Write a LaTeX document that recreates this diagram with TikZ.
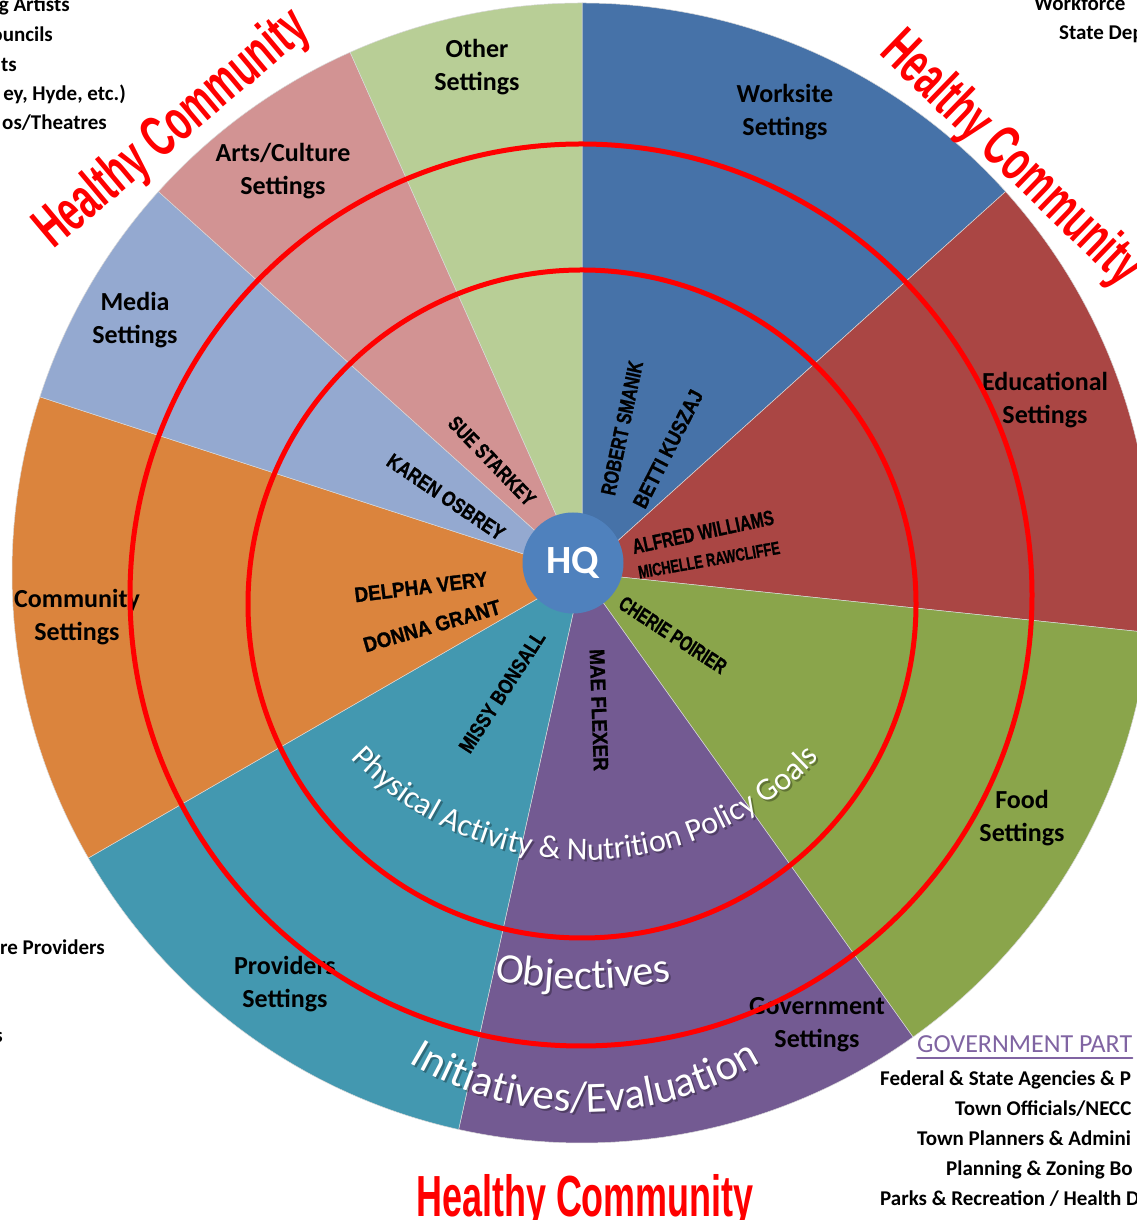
\documentclass[tikz,border=0pt]{standalone}
\usepackage{fontspec}
\usepackage{graphicx}
\setmainfont{Carlito}
\newfontfamily\arialf{Liberation Sans}
\newfontfamily\heavyf{Liberation Sans}[FakeBold=1.2]
\usetikzlibrary{decorations.text}
\definecolor{worksite}{HTML}{4672A8}
\definecolor{educ}{HTML}{AA4644}
\definecolor{food}{HTML}{8AA54B}
\definecolor{govt}{HTML}{735A92}
\definecolor{providers}{HTML}{4398B0}
\definecolor{community}{HTML}{DB843D}
\definecolor{media}{HTML}{94A9D0}
\definecolor{arts}{HTML}{D29393}
\definecolor{other}{HTML}{B8CE96}
\definecolor{hqblue}{HTML}{4F81BD}
\definecolor{govpurple}{HTML}{8064A2}
\newcommand{\hsq}[2]{\scalebox{#1}[1]{#2}}
\begin{document}
\begin{tikzpicture}[x=1pt, y=1pt, line join=round, line cap=round,
	setting/.style={font=\fontsize{26}{33}\selectfont\bfseries, align=center, inner sep=0pt},
	who/.style={font=\fontsize{21}{21}\selectfont\heavyf\bfseries, inner sep=0pt},
	healthy/.style={font=\fontsize{58}{58}\selectfont\arialf\bfseries, text=red, inner sep=0pt},
	partner/.style={font=\fontsize{21}{21}\selectfont\bfseries, inner sep=0pt, anchor=base west},
	ring/.style={draw=red, line width=5pt},
	arctext/.style 2 args={decorate, decoration={text along path, text align=center, text color=#1, text={#2}}}]
	\useasboundingbox (0,0) rectangle (1136,1220);
	\def\R{570pt}
	\coordinate (O) at (582,647);
	% wedges
	\foreach \a/\b/\c in {42/90/worksite, -6/42/educ, -54.5/-6/food, -102.5/-54.5/govt, -150/-102.5/providers, 162/210/community, 138/162/media, 114/138/arts, 90/114/other}
		\fill[\c, draw=white!85!black, line width=0.5pt] (O) -- ++(\a:\R) arc[start angle=\a, end angle=\b, radius=\R] -- cycle;
	\node[circle, fill=hqblue, minimum size=101pt, inner sep=0pt, text=white, font=\fontsize{40}{40}\selectfont\bfseries] (hq) at (573,657) {HQ};
	% names
	\node[who, rotate=78] (smanik) at (622,792) {\hsq{.77}{ROBERT SMANIK}};
	\node[who, rotate=63] (kuszaj) at (668,771) {\hsq{.86}{BETTI KUSZAJ}};
	\node[who, rotate=12] (williams) at (703,688) {\hsq{.74}{ALFRED WILLIAMS}};
	\node[who, rotate=10, font=\fontsize{18}{18}\selectfont\heavyf\bfseries] (rawcliffe) at (709,660) {\hsq{.71}{MICHELLE RAWCLIFFE}};
	\node[who, rotate=-33] (poirier) at (673,585) {\hsq{.72}{CHERIE POIRIER}};
	\node[who, rotate=-88] (flexer) at (599,510) {\hsq{.9}{MAE FLEXER}};
	\node[who, rotate=57] (bonsall) at (502,528) {\hsq{.81}{MISSY BONSALL}};
	\node[who, rotate=7] (very) at (421,633) {\hsq{.9}{DELPHA VERY}};
	\node[who, rotate=16] (grant) at (432,594) {\hsq{.9}{DONNA GRANT}};
	\node[who, rotate=-34] (osbrey) at (446,723) {\hsq{.81}{KAREN OSBREY}};
	\node[who, rotate=-46] (starkey) at (492,759) {\hsq{.78}{SUE STARKEY}};
	% settings
	\node[setting] (otherlbl) at (477,1153) {Other\\Settings};
	\node[setting] (worklbl) at (785,1108) {Worksite\\Settings};
	\node[setting] (artslbl) at (283,1049) {Arts/Culture\\Settings};
	\node[setting] (medialbl) at (135,900) {Media\\Settings};
	\node[setting] (educlbl) at (1045,820) {Educational\\Settings};
	\node[setting] (commlbl) at (77,603) {Community\\Settings};
	\node[setting] (foodlbl) at (1022,402) {Food\\Settings};
	\node[setting] (provlbl) at (285,236) {Providers\\Settings};
	\node[setting] (govlbl) at (817,195) {Government\\Settings};
	% rings
	\draw[ring] (581,625) circle[radius=451pt];
	\draw[ring] (582,616) circle[radius=334pt];
	% curved titles, shadow first
	\foreach \tc/\dx/\op in {black/2pt/0.3, white/0pt/1}{
		\begin{scope}[xshift=\dx, yshift=-\dx, opacity=\op]
			\path[arctext={\tc}{|\fontsize{32}{32}\selectfont|Physical Activity {\&} Nutrition Policy Goals}] ([shift={(-142:320pt)}]585,680) arc[start angle=-142, end angle=-38, radius=320pt];
			\path[arctext={\tc}{|\fontsize{42}{42}\selectfont|Objectives}] ([shift={(-112:450pt)}]583,681) arc[start angle=-112, end angle=-68, radius=450pt];
			\path[arctext={\tc}{|\fontsize{43}{43}\selectfont|Initiatives/Evaluation}] ([shift={(-130:338pt)}]585,446) arc[start angle=-130, end angle=-50, radius=338pt];
		\end{scope}}
	% healthy community
	\node[healthy, rotate=40] (hcleft) at (173,1090) {\hsq{.62}{Healthy Community}};
	\node[healthy, rotate=-44] (hcright) at (1010,1060) {\hsq{.62}{Healthy Community}};
	\node[healthy, anchor=base] (hcbottom) at (585,4) {\hsq{.62}{Healthy Community}};
	% partner lists
	\node[partner, anchor=base east] (artists) at (70,1208) {g Artists};
	\node[partner, anchor=base east] (councils) at (53,1178) {ouncils};
	\node[partner, anchor=base east] (ts) at (17,1148) {ts};
	\node[partner, anchor=base east] (hyde) at (126,1119) {ey, Hyde, etc.)};
	\node[partner, anchor=base east] (theatres) at (107,1090) {os/Theatres};
	\node[partner] (workforce) at (1034,1209) {Workforce};
	\node[partner] (statedep) at (1059,1180) {State Dep};
	\node[partner, anchor=base east] (careprov) at (105,265) {re Providers};
	\node[partner, anchor=base east] (cut) at (3,177) {s};
	\node[partner, font=\fontsize{26}{26}\selectfont, text=govpurple] (govhead) at (917,167) {GOVERNMENT PART};
	\draw[govpurple, line width=2pt] ([yshift=-5pt]govhead.base west) -- ([yshift=-5pt]govhead.base east);
	\node[partner] (federal) at (880,134) {Federal \& State Agencies \& P};
	\node[partner] (officials) at (955,104) {Town Officials/NECC};
	\node[partner] (planners) at (917,74) {Town Planners \& Admini};
	\node[partner] (zoning) at (946,44) {Planning \& Zoning Bo};
	\node[partner] (parks) at (880,14) {Parks \& Recreation / Health D};
\end{tikzpicture}
\end{document}
